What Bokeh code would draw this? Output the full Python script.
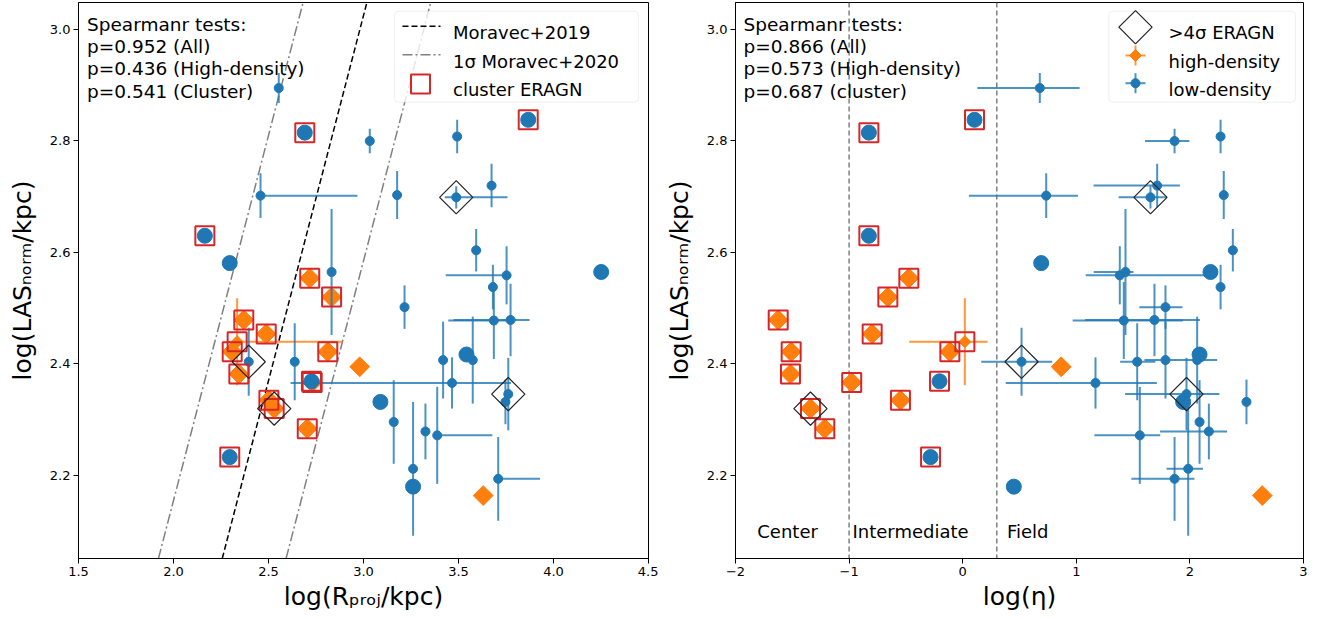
import numpy as np
import pandas as pd
from bokeh.plotting import figure
from bokeh.layouts import row
from bokeh.models import Slope, Span, Label, BoxAnnotation, FixedTicker, Range1d
from bokeh.embed import file_html
from bokeh.resources import INLINE

# ------------------------------------------------------------------ data
# low-density ERAGN
low_las = [2.895, 2.815, 2.838, 2.800, 2.808, 2.702, 2.703, 2.699, 2.720, 2.630,
           2.581, 2.604, 2.565, 2.565, 2.559, 2.538, 2.502, 2.478, 2.479, 2.417,
           2.407, 2.407, 2.404, 2.404, 2.366, 2.369, 2.346, 2.332, 2.332, 2.296,
           2.279, 2.272, 2.233, 2.212, 2.194, 2.180]
low_las_err = [0.027, 0, 0, 0.022, 0.030, 0.040, 0.043, 0.020, 0.039, 0,
               0, 0.038, 0.113, 0, 0.052, 0.040, 0.039, 0.069, 0.065, 0,
               0.078, 0.069, 0.061, 0.069, 0.046, 0, 0.065, 0.040, 0, 0.075,
               0.050, 0.087, 0, 0.120, 0.075, 0]
low_rproj = [2.554, 2.691, 3.867, 3.033, 3.493, 2.458, 3.177, 3.488, 3.674, 2.165,
             2.296, 3.593, 2.832, 4.251, 3.753, 3.681, 3.216, 3.686, 3.774, 3.542,
             3.575, 3.419, 2.396, 2.638, 3.466, 2.726, 3.762, 3.747, 3.089, 3.159,
             3.326, 3.388, 2.296, 3.261, 3.709, 3.261]
low_rproj_lo = [0, 0, 0, 0, 0, 0, 0, 0.06, 0, 0,
                0, 0, 0, 0, 0.32, 0, 0, 0.24, 0.30, 0,
                0, 0, 0, 0, 0.85, 0, 0, 0, 0, 0,
                0, 0, 0, 0, 0, 0]
low_rproj_hi = [0, 0, 0, 0, 0, 0.51, 0, 0.27, 0, 0,
                0, 0, 0, 0, 0, 0, 0, 0.10, 0.10, 0,
                0, 0, 0, 0, 0.31, 0, 0, 0, 0, 0,
                0, 0.29, 0, 0, 0.22, 0]
low_eta = [0.679, -0.826, 0.104, 1.865, 2.270, 0.735, 2.298, 1.653, 1.712, -0.826,
           0.691, 2.378, 1.433, 2.181, 1.383, 2.270, 1.785, 1.418, 1.688, 2.085,
           2.064, 1.785, 0.518, 1.536, 1.169, -0.204, 1.970, 2.498, 1.941, 2.085,
           2.167, 1.559, -0.283, 1.985, 1.865, 0.450]
low_eta_lo = [0.55, 0, 0, 0.26, 0, 0.68, 0, 0.28, 0.56, 0,
              0, 0, 0.28, 0, 0.30, 0, 0.23, 0.45, 0.61, 0,
              0, 0.185, 0.355, 0.15, 0.79, 0, 0.54, 0, 0, 0,
              0.43, 0.40, 0, 0.19, 0.38, 0]
low_eta_hi = [0.35, 0, 0, 0.13, 0, 0.28, 0, 0.14, 0.20, 0,
              0, 0, 0.07, 0, 0.80, 0, 0.15, 0.52, 0.40, 0,
              0, 0.455, 0.27, 0.16, 0.54, 0, 0.29, 0, 0, 0,
              0.16, 0.18, 0, 0.13, 0.175, 0]
low_cluster = [False, True, True, False, False, False, False, False, False, True,
               False, False, False, False, False, False, False, False, False, False,
               False, False, False, False, False, True, False, False, False, False,
               False, False, True, False, False, False]
low_sig4 = [False, False, False, False, False, False, False, True, False, False,
            False, False, False, False, False, False, False, False, False, False,
            False, False, True, False, False, False, True, False, False, False,
            False, False, False, False, False, False]

# high-density ERAGN
high_las = [2.554, 2.520, 2.479, 2.454, 2.422, 2.440, 2.422, 2.382, 2.367, 2.320,
            2.335, 2.284, 2.395, 2.164]
high_las_err = [0, 0, 0, 0, 0, 0.078, 0, 0, 0, 0, 0, 0, 0, 0]
high_rproj = [2.717, 2.832, 2.370, 2.488, 2.812, 2.335, 2.309, 2.344, 2.730, 2.530,
              2.502, 2.704, 2.980, 3.630]
high_rproj_lo = [0, 0, 0, 0, 0, 0.05, 0, 0, 0, 0, 0, 0, 0, 0]
high_rproj_hi = [0, 0, 0, 0, 0, 0.555, 0, 0, 0, 0, 0, 0, 0, 0]
high_eta = [-0.474, -0.659, -1.624, -0.797, -0.113, 0.019, -1.510, -1.516, -0.977, -1.340,
            -0.548, -1.214, 0.867, 2.637]
high_eta_lo = [0, 0, 0, 0, 0, 0.49, 0, 0, 0, 0, 0, 0, 0, 0]
high_eta_hi = [0, 0, 0, 0, 0, 0.20, 0, 0, 0, 0, 0, 0, 0, 0]
high_cluster = [True] * 12 + [False, False]
high_sig4 = [False] * 9 + [True] + [False] * 4

# Moravec relation (log LAS = slope * log R + intercept) and 1 sigma offset
moravec_slope = 1.31
moravec_intercept = -0.905
moravec_sigma = 0.44

# density regions
eta_bounds = [-1.0, 0.3]
region_names = ["Center", "Intermediate", "Field"]

spearman_left = ["Spearmanr tests:", "p=0.952 (All)", "p=0.436 (High-density)", "p=0.541 (Cluster)"]
spearman_right = ["Spearmanr tests:", "p=0.866 (All)", "p=0.573 (High-density)", "p=0.687 (cluster)"]

left_xticks = [1.5, 2.0, 2.5, 3.0, 3.5, 4.0, 4.5]
left_xlabels = ["1.5", "2.0", "2.5", "3.0", "3.5", "4.0", "4.5"]
right_xticks = [-2, -1, 0, 1, 2, 3]
right_xlabels = ["\u22122", "\u22121", "0", "1", "2", "3"]
yticks = [2.2, 2.4, 2.6, 2.8, 3.0]
ylabels = ["2.2", "2.4", "2.6", "2.8", "3.0"]

y_title = "log(LAS\u2099\u2092\u1d63\u2098/kpc)"
x_title_left = "log(R\u209a\u1d63\u2092\u2c7c/kpc)"
x_title_right = "log(\u03b7)"

low = pd.DataFrame(dict(las=low_las, err=low_las_err, r=low_rproj, r_lo=low_rproj_lo,
                        r_hi=low_rproj_hi, eta=low_eta, eta_lo=low_eta_lo, eta_hi=low_eta_hi,
                        cluster=low_cluster, sig4=low_sig4))
high = pd.DataFrame(dict(las=high_las, err=high_las_err, r=high_rproj, r_lo=high_rproj_lo,
                         r_hi=high_rproj_hi, eta=high_eta, eta_lo=high_eta_lo, eta_hi=high_eta_hi,
                         cluster=high_cluster, sig4=high_sig4))

# ------------------------------------------------------------------ layout
BLUE, ORANGE, RED = "#1f77b4", "#ff7f0e", "#d62728"
FONT = "DejaVu Sans"
H = 613
FRAME_TOP, FRAME_BOTTOM = 2, 558
Y_START, Y_END = 2.05112, 3.04843
L_X, L_FRAME = (1.5, 4.5), (78, 648)
R_X, R_FRAME = (-2.0, 3.0), (735, 1303)
LEFT_W = 658
RIGHT_W = 653


def ly(py):
    return Y_END - (py - FRAME_TOP) * (Y_END - Y_START) / (FRAME_BOTTOM - FRAME_TOP)


def mapper(xr, fr):
    return lambda px: xr[0] + (px - fr[0]) * (xr[1] - xr[0]) / (fr[1] - fr[0])


lx = mapper(L_X, L_FRAME)
rx = mapper(R_X, R_FRAME)


def base_fig(xr, width, bl, br, ticks, labels, xtitle):
    p = figure(width=width, height=H, x_range=Range1d(*xr), y_range=Range1d(Y_START, Y_END),
               output_backend="svg", toolbar_location=None,
               min_border_left=bl, min_border_right=br, min_border_top=FRAME_TOP,
               min_border_bottom=H - FRAME_BOTTOM)
    p.xgrid.visible = False
    p.ygrid.visible = False
    p.outline_line_color = "black"
    p.outline_line_alpha = 1.0
    p.outline_line_width = 1
    p.xaxis.ticker = FixedTicker(ticks=ticks)
    p.xaxis.major_label_overrides = {t: l for t, l in zip(ticks, labels)}
    p.yaxis.ticker = FixedTicker(ticks=yticks)
    p.yaxis.major_label_overrides = {t: l for t, l in zip(yticks, ylabels)}
    p.xaxis.axis_label = xtitle
    p.yaxis.axis_label = y_title
    p.xaxis.axis_label_standoff = 3
    p.yaxis.axis_label_standoff = 10
    for ax in list(p.xaxis) + list(p.yaxis):
        ax.major_tick_in = 0
        ax.major_tick_out = 5
        ax.minor_tick_in = 0
        ax.minor_tick_out = 0
        ax.axis_line_color = "black"
        ax.major_tick_line_color = "black"
        ax.major_label_text_font = FONT
        ax.major_label_text_font_size = "13px"
        ax.major_label_text_color = "black"
        ax.major_label_standoff = 3
        ax.axis_label_text_font = FONT
        ax.axis_label_text_font_size = "25px"
        ax.axis_label_text_font_style = "normal"
        ax.axis_label_text_color = "black"
    return p


def text(p, fx, px, py, s, size):
    p.add_layout(Label(x=fx(px), y=ly(py), text=s, text_font=FONT, text_font_size=f"{size}px",
                       text_baseline="alphabetic", text_align="left", text_color="black"))


def draw_points(p, xc, loc, hic):
    for df, color, marker, angle, s_small, s_big in ((high, ORANGE, "square", np.pi / 4, 8.5, 14),
                                                     (low, BLUE, "circle", 0.0, 9, 15)):
        e = df[df.err > 0]
        p.segment(x0=e[xc].to_numpy(), y0=(e.las - e.err).to_numpy(), x1=e[xc].to_numpy(),
                  y1=(e.las + e.err).to_numpy(), line_color=color, line_width=2, line_alpha=0.8)
        hx = e[(e[loc] + e[hic]) > 0]
        p.segment(x0=(hx[xc] - hx[loc]).to_numpy(), y0=hx.las.to_numpy(),
                  x1=(hx[xc] + hx[hic]).to_numpy(), y1=hx.las.to_numpy(),
                  line_color=color, line_width=2, line_alpha=0.8)
        p.scatter(x=e[xc].to_numpy(), y=e.las.to_numpy(), marker=marker, angle=angle,
                  size=s_small, color=color)
        b = df[df.err == 0]
        p.scatter(x=b[xc].to_numpy(), y=b.las.to_numpy(), marker=marker, angle=angle,
                  size=s_big, color=color)
    allp = pd.concat([high, low])
    c = allp[allp.cluster]
    p.scatter(x=c[xc].to_numpy(), y=c.las.to_numpy(), marker="square", size=19,
              fill_color=None, line_color=RED, line_width=2)
    d = allp[allp.sig4]
    p.scatter(x=d[xc].to_numpy(), y=d.las.to_numpy(), marker="square", angle=np.pi / 4,
              size=23.5, fill_color=None, line_color="#222222", line_width=1.2)


def overlay(r):
    r.level = "overlay"
    return r


# ------------------------------------------------------------------ left panel
p1 = base_fig(L_X, LEFT_W, L_FRAME[0], LEFT_W - L_FRAME[1], left_xticks, left_xlabels, x_title_left)
p1.add_layout(Slope(gradient=moravec_slope, y_intercept=moravec_intercept, line_color="black",
                    line_dash="6 3", line_width=1.5, level="underlay"))
for sgn in (-1, 1):
    p1.add_layout(Slope(gradient=moravec_slope, y_intercept=moravec_intercept + sgn * moravec_sigma,
                        line_color="gray", line_dash="10 3 2 3", line_width=1.5, level="underlay"))
draw_points(p1, "r", "r_lo", "r_hi")

for i, s in enumerate(spearman_left):
    text(p1, lx, 86.5, 24 + 22.2 * i, s, 18.5)

p1.add_layout(BoxAnnotation(left=lx(394), right=lx(638), top=ly(10.7), bottom=ly(101.7),
                            fill_color="white", fill_alpha=0.8, line_color="#cccccc",
                            line_width=1, border_radius=4))
overlay(p1.line(x=[lx(402), lx(440)], y=[ly(25.7), ly(25.7)], line_color="black",
                line_dash="6 3", line_width=1.5))
overlay(p1.line(x=[lx(402), lx(440)], y=[ly(54.3), ly(54.3)], line_color="gray",
                line_dash="10 3 2 3", line_width=1.5))
overlay(p1.scatter(x=[lx(420)], y=[ly(83.5)], marker="square", size=19, fill_color=None,
                   line_color=RED, line_width=2))
for i, s in enumerate(["Moravec+2019", "1\u03c3 Moravec+2020", "cluster ERAGN"]):
    text(p1, lx, 452.5, 32.3 + 28.5 * i, s, 18)

# ------------------------------------------------------------------ right panel
p2 = base_fig(R_X, RIGHT_W, R_FRAME[0] - LEFT_W, LEFT_W + RIGHT_W - R_FRAME[1],
              right_xticks, right_xlabels, x_title_right)
for b in eta_bounds:
    p2.add_layout(Span(location=b, dimension="height", line_color="gray", line_dash="5 3",
                       line_width=1.5, level="underlay"))
draw_points(p2, "eta", "eta_lo", "eta_hi")

for i, s in enumerate(spearman_right):
    text(p2, rx, 743, 24 + 22.2 * i, s, 18.5)
for px, s in zip([756.8, 852, 1006.5], region_names):
    text(p2, rx, px, 530.7, s, 18)

p2.add_layout(BoxAnnotation(left=rx(1108.3), right=rx(1295), top=ly(10.7), bottom=ly(101.7),
                            fill_color="white", fill_alpha=0.8, line_color="#cccccc",
                            line_width=1, border_radius=4))
overlay(p2.scatter(x=[rx(1135)], y=[ly(26.7)], marker="square", angle=np.pi / 4, size=23.5,
                   fill_color=None, line_color="#222222", line_width=1.2))
for cy, color, marker, angle, sz in ((55.0, ORANGE, "square", np.pi / 4, 8.5),
                                     (82.7, BLUE, "circle", 0.0, 9)):
    overlay(p2.segment(x0=[rx(1125), rx(1135)], y0=[ly(cy), ly(cy - 10)],
                       x1=[rx(1145), rx(1135)], y1=[ly(cy), ly(cy + 10)],
                       line_color=color, line_width=2, line_alpha=0.8))
    overlay(p2.scatter(x=[rx(1135)], y=[ly(cy)], marker=marker, angle=angle, size=sz, color=color))
for i, s in enumerate([">4\u03c3 ERAGN", "high-density", "low-density"]):
    text(p2, rx, 1168, 32.3 + 28.5 * i, s, 18)

layout = row(p1, p2)
open("out.html", "w").write(file_html(layout, INLINE))
